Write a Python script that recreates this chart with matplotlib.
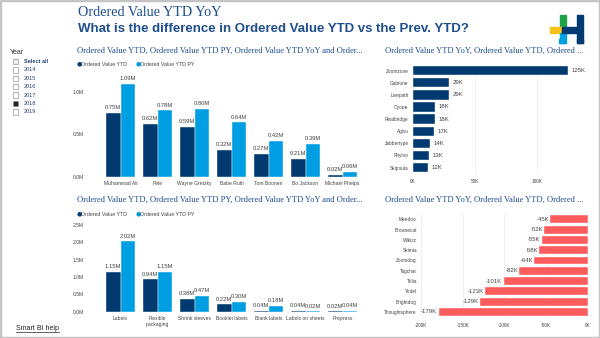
import matplotlib
matplotlib.use("Agg")
import matplotlib.pyplot as plt
from matplotlib.patches import Rectangle
import numpy as np

# data
people = ["Muhammad Ali", "Pele", "Wayne Gretzky", "Babe Ruth", "Tom Boonen", "Bo Jackson", "Michael Phelps"]
people_ytd = [0.75, 0.62, 0.59, 0.32, 0.27, 0.21, 0.02]
people_py = [1.09, 0.78, 0.80, 0.64, 0.42, 0.39, 0.06]

products = ["Labels", "Flexible\npackaging", "Shrink sleeves", "Booklet labels", "Blank labels", "Labels on sheets", "Prepress"]
products_ytd = [1.15, 0.94, 0.38, 0.22, 0.04, 0.04, 0.02]
products_py = [2.02, 1.15, 0.47, 0.30, 0.18, 0.02, 0.04]

gain_names = ["Zoomzone", "Gabtune", "Livepath", "Oyope", "Realbridge", "Agivu", "Jabbertype", "Rhyloo", "Skipoula"]
gain_vals = [125, 29, 29, 18, 18, 17, 14, 13, 12]

loss_names = ["Meedoo", "Browsecat", "Wikizz", "Skimia", "Zoomdog", "Tagchat", "Trilia", "Yodel", "Brightdog", "Thoughtsphere"]
loss_vals = [-45, -52, -55, -58, -64, -82, -101, -123, -129, -179]

years = ["Select all", "2014", "2015", "2016", "2017", "2018", "2019"]

NAVY = "#003a70"
LIGHT = "#009fe3"
RED = "#fd5c5c"
TITLE = "#1f4e8c"
TXT = "#444444"

W, H = 600, 338
fig = plt.figure(figsize=(6, 3.38), dpi=100)


def fx(x):
    return x / W


def fy(y):
    return 1 - y / H


def box(x0, y0, x1, y1):
    return [fx(x0), fy(y1), (x1 - x0) / W, (y1 - y0) / H]


# frame
fig.patches.append(Rectangle((0, 0), 1, 1, transform=fig.transFigure, fill=False,
                             edgecolor="#c4c4c4", linewidth=2.5))

# headings
fig.text(fx(78), fy(12), "Ordered Value YTD YoY", family="Liberation Serif", fontsize=10.2,
         color=TITLE, va="center")
fig.text(fx(78), fy(28.5), "What is the difference in Ordered Value YTD vs the Prev. YTD?",
         family="Liberation Sans", fontweight="bold", fontsize=9.5, color=TITLE, va="center")

# logo
for (x0, y0, x1, y1, c) in [(560, 15, 565.5, 28, "#1fa34a"), (550, 27, 562, 32.5, "#f7c31b"),
                            (560, 32.5, 565.5, 43, "#00a3e0"), (562, 27, 578, 32.5, NAVY),
                            (577, 15, 583, 43, NAVY)]:
    fig.patches.append(Rectangle((fx(x0), fy(y1)), (x1 - x0) / W, (y1 - y0) / H,
                                 transform=fig.transFigure, color=c))

# year slicer
fig.text(fx(10), fy(53), "Year", fontsize=5, color="#333333", va="center", family="Liberation Sans")
for i, yr in enumerate(years):
    yy = 61.5 + i * 8.4
    fc = "#222222" if yr == "2018" else ("#eeeeee" if yr == "Select all" else "white")
    fig.patches.append(Rectangle((fx(13), fy(yy + 2.6)), 5.2 / W, 5.2 / H, transform=fig.transFigure,
                                 facecolor=fc, edgecolor="#999999", linewidth=0.5))
    fig.text(fx(24), fy(yy), yr, fontsize=4, color="#1f3f6e", va="center", family="Liberation Sans",
             fontweight="bold" if yr == "Select all" else "normal")

fig.text(fx(16), fy(329), "Smart BI help", fontsize=5, color="#222222", va="center",
         family="Liberation Sans")
fig.lines.append(plt.Line2D([fx(16), fx(59)], [fy(332), fy(332)], transform=fig.transFigure,
                            color="#222222", linewidth=0.5))

# cut-off legend icons top right
fig.patches.append(Rectangle((fx(559), fy(42.5)), 6 / W, 3 / H, transform=fig.transFigure, color=LIGHT))
fig.patches.append(Rectangle((fx(577), fy(42.5)), 6 / W, 3 / H, transform=fig.transFigure, color=NAVY))

PANEL_TITLE = "Ordered Value YTD, Ordered Value YTD PY, Ordered Value YTD YoY and Order..."
PANEL_TITLE2 = "Ordered Value YTD YoY, Ordered Value YTD, Ordered ..."


def column_panel(ax_box, title_y, legend_y, cats, ytd, py, ymax, ticks):
    fig.text(fx(77), fy(title_y), PANEL_TITLE, family="Liberation Serif", fontsize=6.15,
             color=TITLE, va="center")
    fig.text(fx(77), fy(legend_y), "\u25CF", fontsize=4.5, color=NAVY, va="center")
    fig.text(fx(81), fy(legend_y), "Ordered Value YTD", fontsize=3.8, color=TXT, va="center",
             family="Liberation Sans")
    fig.text(fx(136), fy(legend_y), "\u25CF", fontsize=4.5, color=LIGHT, va="center")
    fig.text(fx(140), fy(legend_y), "Ordered Value YTD PY", fontsize=3.8, color=TXT, va="center",
             family="Liberation Sans")
    ax = fig.add_axes(ax_box)
    x = np.arange(len(cats))
    w = 0.405
    b1 = ax.bar(x - w / 2, ytd, w, color=NAVY, edgecolor="white", linewidth=0.3)
    b2 = ax.bar(x + w / 2, py, w, color=LIGHT, edgecolor="white", linewidth=0.3)
    for bars, vals in ((b1, ytd), (b2, py)):
        for r, v in zip(bars, vals):
            ax.text(r.get_x() + r.get_width() / 2, v + ymax * 0.025, f"{v:.2f}M", ha="center",
                    va="bottom", fontsize=4.2, color=TXT, family="Liberation Sans")
    ax.set_xlim(-0.5, len(cats) - 0.5)
    ax.set_ylim(0, ymax)
    ax.set_yticks(ticks)
    ax.set_yticklabels([f"{t:.1f}M" for t in ticks])
    ax.set_xticks(x)
    ax.set_xticklabels(cats)
    for s in ax.spines.values():
        s.set_visible(False)
    ax.axhline(0, color="#dddddd", linewidth=0.5)
    ax.tick_params(axis="y", length=0, pad=13, labelsize=3.6, labelcolor=TXT)
    ax.tick_params(axis="x", length=0, pad=3, labelsize=3.6, labelcolor=TXT)
    for lab in ax.get_xticklabels() + ax.get_yticklabels():
        lab.set_family("Liberation Sans")
        lab.set_linespacing(1.1)
    ax.patch.set_alpha(0)
    return ax


column_panel(box(102, 74.7, 361, 176.7), 51, 64, people, people_ytd, people_py, 1.2, [0.0, 0.5, 1.0])
column_panel(box(102, 221, 361, 312), 200, 214, products, products_ytd, products_py, 2.6,
             [0.0, 0.5, 1.0, 1.5, 2.0, 2.5])


def bar_panel(ax_box, title_y, names, vals, color, xlim, ticks, ticklabels, neg):
    fig.text(fx(385), fy(title_y), PANEL_TITLE2, family="Liberation Serif", fontsize=6.15,
             color=TITLE, va="center")
    ax = fig.add_axes(ax_box)
    y = np.arange(len(names))
    ax.barh(y, vals, 0.77, color=color, edgecolor="white", linewidth=0.3, zorder=2)
    for yi, v in zip(y, vals):
        if neg:
            ax.text(v - 1.5, yi, f"{v}K", ha="right", va="center", fontsize=4.3, color=TXT,
                    family="Liberation Sans")
        else:
            ax.text(v + 3, yi, f"{v}K", ha="left", va="center", fontsize=4.3, color=TXT,
                    family="Liberation Sans")
    ax.set_ylim(len(names) - 0.5, -0.5)
    ax.set_xlim(*xlim)
    ax.set_yticks(y)
    ax.set_yticklabels(names)
    ax.set_xticks(ticks)
    ax.set_xticklabels(ticklabels)
    for s in ax.spines.values():
        s.set_visible(False)
    ax.grid(axis="x", color="#eeeeee", linewidth=0.6, zorder=0)
    ax.tick_params(axis="y", length=0, pad=3, labelsize=3.4, labelcolor=TXT)
    ax.tick_params(axis="x", length=0, pad=4, labelsize=3.4, labelcolor=TXT)
    for lab in ax.get_xticklabels() + ax.get_yticklabels():
        lab.set_family("Liberation Sans")
    ax.patch.set_alpha(0)
    return ax


bar_panel(box(412.7, 64.6, 590, 173.6), 51, gain_names, gain_vals, NAVY, (0, 143),
          [0, 50, 100], ["0K", "50K", "100K"], False)
bar_panel(box(421, 214.2, 587.7, 317), 200, loss_names, loss_vals, RED, (-200, 0),
          [-200, -150, -100, -50, 0], ["-200K", "-150K", "-100K", "-50K", "0K"], True)

fig.savefig("out.png", dpi=100)
